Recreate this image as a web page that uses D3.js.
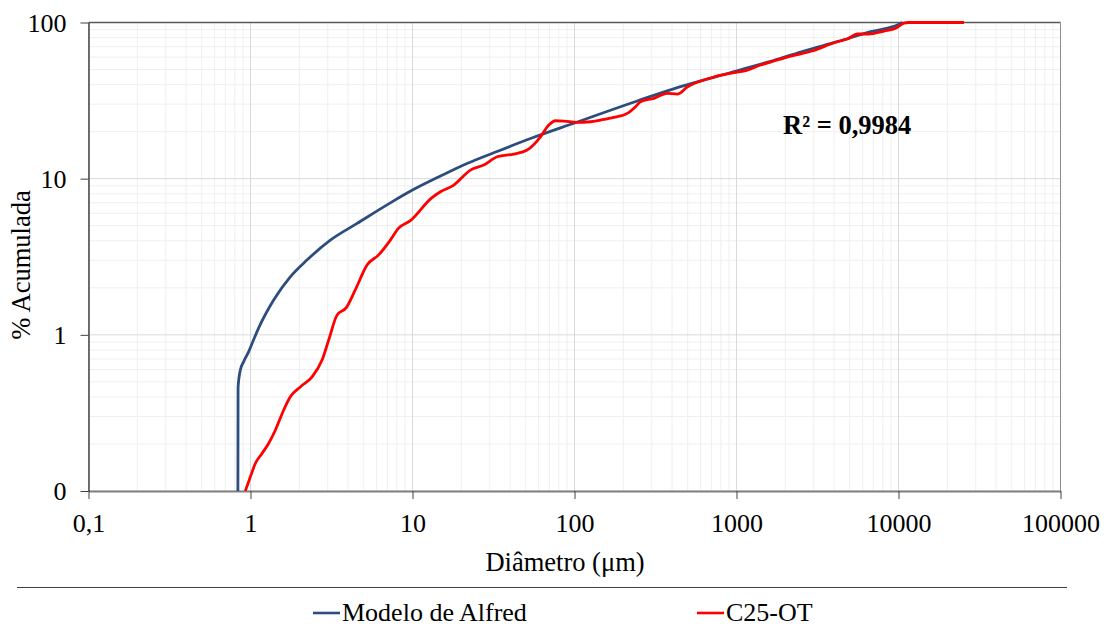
<!DOCTYPE html>
<html>
<head>
<meta charset="utf-8">
<script src="https://cdn.jsdelivr.net/npm/d3@7"></script>
<style>
  body { margin: 0; background: #fff; }
  svg text { font-family: "Liberation Serif", "Times New Roman", serif; fill: #000; }
</style>
</head>
<body>
<div id="chart"></div>
<script>
// values (diameter in um, cumulative %)
var alfredD   = [0.836, 0.838, 0.865, 0.906, 0.973, 1.045, 1.12, 1.39, 1.76, 2.23, 3.11, 4.55, 7.3, 10, 14.9, 21.7, 32, 56.1, 101, 222, 451, 1011, 1873, 2608, 4195, 6734, 10070, 10570];
var alfredPct = [0.1, 0.46, 0.594, 0.671, 0.778, 0.93, 1.1, 1.67, 2.35, 3.01, 4.04, 5.17, 7.0, 8.45, 10.4, 12.5, 14.7, 18.4, 22.8, 30.4, 38.8, 49.1, 59, 65.7, 75.4, 87.3, 97.4, 100];

var c25D   = [0.929, 0.997, 1.071, 1.178, 1.293, 1.423, 1.601, 1.761, 2.03, 2.4, 2.765, 3.037, 3.42, 3.905, 4.5, 5.24, 6.16, 7.3, 8.18, 9.7, 13.09, 14.87, 17.97, 22.79, 27.53, 33.3, 42.2, 51, 61.7, 69.4, 76.3, 85.9, 103.9, 125.6, 144.7, 174.8, 211.6, 238.2, 255.6, 309, 373.7, 430.9, 496.6, 725, 963, 1166, 1409, 1702, 2060, 3006, 3997, 4834, 5598, 6545, 8137, 9610, 10815, 11560, 25380];
var c25Pct = [0.1, 0.123, 0.15, 0.174, 0.2015, 0.245, 0.329, 0.401, 0.464, 0.538, 0.689, 0.925, 1.337, 1.494, 2.006, 2.796, 3.24, 4.045, 4.8, 5.39, 7.51, 8.245, 9.1, 11.35, 12.22, 13.81, 14.38, 15.25, 18.55, 22.05, 23.49, 23.39, 22.95, 23.15, 23.74, 24.7, 26.2, 28.9, 31.1, 32.7, 35.2, 34.8, 38.6, 44.75, 47.7, 49.6, 53.4, 56.7, 60.1, 66.2, 74.2, 78.4, 84.4, 84.4, 88.2, 91.8, 99, 100, 100];

var xTicks = [0.1, 1, 10, 100, 1000, 10000, 100000];
var xTickLabels = ["0,1", "1", "10", "100", "1000", "10000", "100000"];
var yTicks = [0.1, 1, 10, 100];
var yTickLabels = ["0", "1", "10", "100"];

var seriesNames = ["Modelo de Alfred", "C25-OT"];
var seriesColors = ["#2c4d7d", "#ff0000"];
var r2Label = "R² = 0,9984";

var width = 1110, height = 628;
var margin = {top: 22.5, right: 49.5, bottom: 137, left: 88.5};
var w = width - margin.left - margin.right;
var h = height - margin.top - margin.bottom;

var svg = d3.select("#chart").append("svg")
    .attr("width", width)
    .attr("height", height);

var x = d3.scaleLog().domain([0.1, 100000]).range([0, w]);
var y = d3.scaleLog().domain([0.1, 100]).range([h, 0]);

var g = svg.append("g")
    .attr("transform", "translate(" + margin.left + "," + margin.top + ")");

// minor grid
var minorX = [], minorY = [];
for (var e = -1; e < 5; e++) {
    for (var k = 2; k < 10; k++) minorX.push(k * Math.pow(10, e));
}
for (var e2 = -1; e2 < 2; e2++) {
    for (var k2 = 2; k2 < 10; k2++) minorY.push(k2 * Math.pow(10, e2));
}
g.selectAll(".minx").data(minorX).enter().append("line")
    .attr("x1", function(d) { return x(d); }).attr("x2", function(d) { return x(d); })
    .attr("y1", 0).attr("y2", h)
    .style("stroke", "#efefef").style("stroke-width", 1);
g.selectAll(".miny").data(minorY).enter().append("line")
    .attr("y1", function(d) { return y(d); }).attr("y2", function(d) { return y(d); })
    .attr("x1", 0).attr("x2", w)
    .style("stroke", "#efefef").style("stroke-width", 1);

// major grid
g.selectAll(".majx").data(xTicks).enter().append("line")
    .attr("x1", function(d) { return x(d); }).attr("x2", function(d) { return x(d); })
    .attr("y1", 0).attr("y2", h)
    .style("stroke", "#d9d9d9").style("stroke-width", 1);
g.selectAll(".majy").data(yTicks).enter().append("line")
    .attr("y1", function(d) { return y(d); }).attr("y2", function(d) { return y(d); })
    .attr("x1", 0).attr("x2", w)
    .style("stroke", "#d9d9d9").style("stroke-width", 1);

// plot border (top and right)
g.append("line").attr("x1", 0).attr("x2", w).attr("y1", 0).attr("y2", 0)
    .style("stroke", "#595959").style("stroke-width", 1.5);
g.append("line").attr("x1", w).attr("x2", w).attr("y1", 0).attr("y2", h)
    .style("stroke", "#8c8c8c").style("stroke-width", 1);

// axes
var xAxis = d3.axisBottom(x).tickValues(xTicks)
    .tickFormat(function(d, i) { return xTickLabels[i]; })
    .tickSize(8).tickSizeOuter(0).tickPadding(15);
var yAxis = d3.axisLeft(y).tickValues(yTicks)
    .tickFormat(function(d, i) { return yTickLabels[i]; })
    .tickSize(8).tickSizeOuter(0).tickPadding(14);

var gx = g.append("g").attr("transform", "translate(0," + h + ")").call(xAxis);
gx.select(".domain").style("stroke", "#808080").style("stroke-width", 2);
gx.selectAll(".tick line").style("stroke", "#404040");
gx.selectAll("text").style("font-size", "26px").style("font-family", "Liberation Serif");

var gy = g.append("g").call(yAxis);
gy.select(".domain").style("stroke", "#1a1a1a").style("stroke-width", 1.2);
gy.selectAll(".tick line").style("stroke", "#404040");
gy.selectAll("text").style("font-size", "26px").style("font-family", "Liberation Serif")
    .attr("dy", "0.34em");

// lines
g.append("clipPath").attr("id", "clip").append("rect")
    .attr("x", 0).attr("y", -2).attr("width", w).attr("height", h + 2);

var line = d3.line()
    .x(function(d) { return x(d[0]); })
    .y(function(d) { return y(d[1]); })
    .curve(d3.curveMonotoneX);

var series = [d3.zip(alfredD, alfredPct), d3.zip(c25D, c25Pct)];

g.selectAll(".series").data(series).enter().append("path")
    .attr("clip-path", "url(#clip)")
    .attr("d", line)
    .style("fill", "none")
    .style("stroke", function(d, i) { return seriesColors[i]; })
    .style("stroke-width", 2.8)
    .style("stroke-linejoin", "round");

// R² label
svg.append("text")
    .attr("x", 783).attr("y", 134)
    .style("font-size", "26.5px").style("font-weight", "bold")
    .text(r2Label);

// axis titles
svg.append("text")
    .attr("x", 565).attr("y", 571)
    .style("font-size", "26.5px")
    .attr("text-anchor", "middle")
    .text("Diâmetro (μm)");

svg.append("text")
    .attr("transform", "translate(30,265) rotate(-90)")
    .style("font-size", "26.5px")
    .attr("text-anchor", "middle")
    .text("% Acumulada");

// legend
svg.append("line").attr("x1", 17).attr("x2", 1067).attr("y1", 587.5).attr("y2", 587.5)
    .style("stroke", "#404040").style("stroke-width", 1.2);

var legendX = [313, 697];
var legend = svg.selectAll(".legend").data(seriesNames).enter().append("g")
    .attr("transform", function(d, i) { return "translate(" + legendX[i] + ",613)"; });
legend.append("line")
    .attr("x1", 0).attr("x2", 27).attr("y1", 0).attr("y2", 0)
    .style("stroke", function(d, i) { return seriesColors[i]; })
    .style("stroke-width", 2.6);
legend.append("text")
    .attr("x", 29).attr("y", 8)
    .style("font-size", "26px")
    .text(function(d) { return d; });
</script>
</body>
</html>
